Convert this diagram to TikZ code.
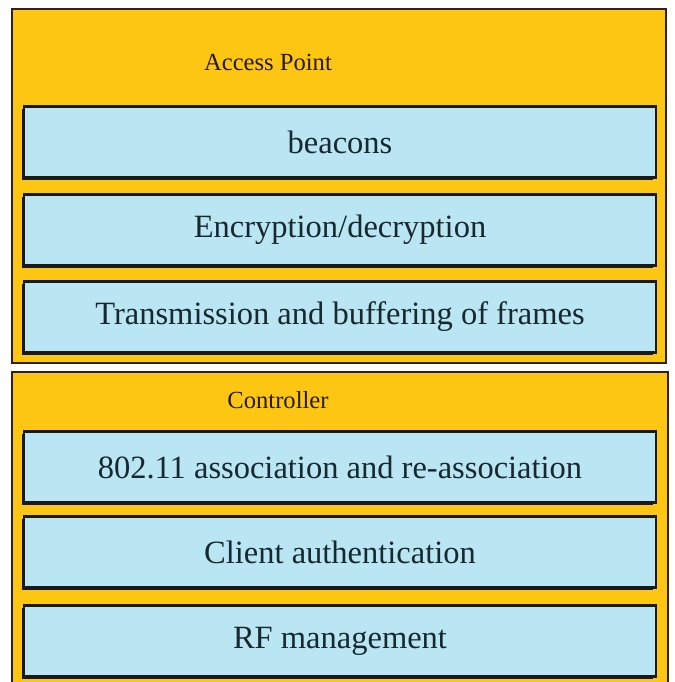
\documentclass[tikz,border=0pt]{standalone}
\usepackage{fontspec}
\setmainfont{Liberation Serif}
\newfontfamily\boxface{Liberation Serif}
\usetikzlibrary{shadows}
\definecolor{apgold}{RGB}{252,198,18}
\definecolor{fnblue}{RGB}{186,229,242}
\definecolor{inkdark}{RGB}{22,40,48}
\tikzset{
  panel/.style={draw=black!75!brown, line width=1pt, fill=apgold},
  panellabel/.style={font=\boxface\fontsize{14}{16}\selectfont, text=black!80!brown},
  fnbox/.style={draw=black!90, line width=1.2pt, fill=fnblue, minimum width=12.64cm,
    minimum height=1.42cm, inner sep=0pt, text=inkdark, font=\boxface\fontsize{18.5}{20}\selectfont,
    drop shadow={shadow xshift=-1.4pt, shadow yshift=-1.4pt, opacity=1, fill=black!90}}
}
\begin{document}
\begin{tikzpicture}[x=0.02cm, y=-0.02cm]
    \useasboundingbox (0,0) rectangle (674,682);
    \clip (0,0) rectangle (674,682);
    \fill[white] (0,0) rectangle (674,682);
    % access point panel
    \draw[panel] (12,9) rectangle (666,363);
    \node[panellabel] (aplabel) at (268,62) {Access Point};
    \node[fnbox] (beacons) at (340,142) {beacons};
    \node[fnbox] (crypt) at (340,230) {Encryption/decryption};
    \node[fnbox] (txbuf) at (340,317) {Transmission and buffering of frames};
    % controller panel
    \draw[panel] (12,372) rectangle (668,700);
    \node[panellabel] (ctrllabel) at (278,400) {Controller};
    \node[fnbox] (assoc) at (340,467) {802.11 association and re-association};
    \node[fnbox] (auth) at (340,552) {Client authentication};
    \node[fnbox] (rfmgmt) at (340,641) {RF management};
\end{tikzpicture}
\end{document}
